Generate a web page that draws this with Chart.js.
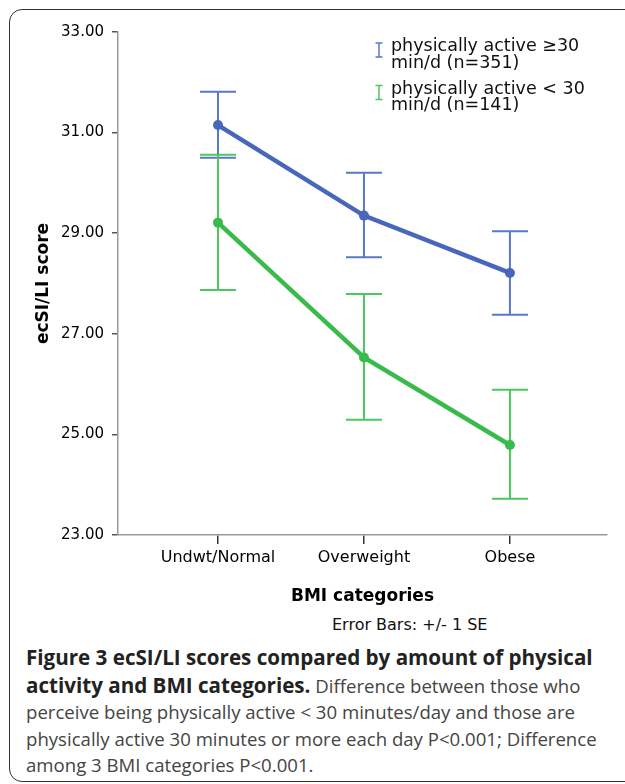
<!DOCTYPE html>
<html>
<head>
<meta charset="utf-8">
<script src="https://cdn.jsdelivr.net/npm/chart.js@4"></script>
<style>
  html, body { margin: 0; padding: 0; background: #fff; overflow: hidden; }
  body { width: 625px; height: 784px; position: relative; }
  .frame {
    position: absolute; left: 9px; top: 9px; width: 720px; height: 773px;
    border: 1.5px solid #333; border-radius: 13px; box-sizing: border-box;
  }
  #wrap { position: absolute; left: 0; top: 0; width: 625px; height: 610px; }
  .errnote {
    position: absolute; left: 332px; top: 615px; line-height: 20px;
    font: 16px "DejaVu Sans", sans-serif; color: #111; white-space: nowrap;
  }
  .caption {
    position: absolute; left: 26px; top: 644px; width: 600px;
    font: 18.6px "Open Sans", sans-serif; line-height: 26.5px; color: #444; white-space: nowrap;
  }
  .caption b { color: #222; font-weight: 700; font-size: 20.6px; line-height: 26.5px; }
</style>
</head>
<body>
<div class="frame"></div>
<div id="wrap"><canvas id="chart"></canvas></div>
<div class="errnote">Error Bars: +/- 1 SE</div>
<div class="caption"><b>Figure 3 ecSI/LI scores compared by amount of physical<br>activity and BMI categories.</b> Difference between those who<br>perceive being physically active &lt; 30 minutes/day and those are<br>physically active 30 minutes or more each day P&lt;0.001; Difference<br>among 3 BMI categories P&lt;0.001.</div>

<script>
// ===== dados =====
const categories = ['Undwt/Normal', 'Overweight', 'Obese'];
const yTicks = [23, 25, 27, 29, 31, 33];

const activeLabel = ['physically active \u226530', 'min/d (n=351)'];
const activeMean  = [31.15, 29.35, 28.21];
const activeLow   = [30.50, 28.52, 27.38];
const activeHigh  = [31.81, 30.20, 29.04];

const inactiveLabel = ['physically active < 30', 'min/d (n=141)'];
const inactiveMean  = [29.21, 26.53, 24.79];
const inactiveLow   = [27.87, 25.29, 23.72];
const inactiveHigh  = [30.56, 27.79, 25.89];

const BLUE = '#4866bb', BLUE_EB = '#5a78c8';
const GREEN = '#38bb4c', GREEN_EB = '#4cc75e';
const FONT = '"DejaVu Sans", sans-serif';

const series = [
  { label: activeLabel,   mean: activeMean,   low: activeLow,   high: activeHigh,   color: BLUE,  eb: BLUE_EB },
  { label: inactiveLabel, mean: inactiveMean, low: inactiveLow, high: inactiveHigh, color: GREEN, eb: GREEN_EB }
];

// barras de erro + legenda desenhadas com as escalas do Chart.js
const errorBars = {
  id: 'errorBars',
  beforeDatasetsDraw(chart) {
    const { ctx, scales: { x, y } } = chart;
    ctx.save();
    ctx.lineWidth = 2;
    series.forEach(s => {
      ctx.strokeStyle = s.eb;
      s.mean.forEach((m, i) => {
        const px = x.getPixelForValue(i);
        const yl = y.getPixelForValue(s.low[i]);
        const yh = y.getPixelForValue(s.high[i]);
        ctx.beginPath();
        ctx.moveTo(px, yl); ctx.lineTo(px, yh);
        ctx.moveTo(px - 18, yh); ctx.lineTo(px + 18, yh);
        ctx.moveTo(px - 18, yl); ctx.lineTo(px + 18, yl);
        ctx.stroke();
      });
    });
    ctx.restore();
  },
  afterDraw(chart) {
    const { ctx } = chart;
    ctx.save();
    ctx.font = '17.5px ' + FONT;
    ctx.fillStyle = '#111';
    ctx.textBaseline = 'alphabetic';
    series.forEach((s, k) => {
      const top = 43 + k * 42.5;
      // símbolo "I"
      ctx.strokeStyle = s.eb;
      ctx.lineWidth = 1.5;
      ctx.beginPath();
      ctx.moveTo(379, top); ctx.lineTo(379, top + 14);
      ctx.moveTo(375.5, top); ctx.lineTo(382.5, top);
      ctx.moveTo(375.5, top + 14); ctx.lineTo(382.5, top + 14);
      ctx.stroke();
      s.label.forEach((t, j) => ctx.fillText(t, 391, top + 8 + j * 16.7));
    });
    ctx.restore();
  }
};

new Chart(document.getElementById('chart'), {
  type: 'line',
  data: {
    datasets: series.map(s => ({
      data: s.mean.map((v, i) => ({ x: i, y: v })),
      borderColor: s.color,
      backgroundColor: s.color,
      borderWidth: 4.5,
      pointRadius: 5,
      pointBorderWidth: 0,
      tension: 0
    }))
  },
  options: {
    responsive: true,
    maintainAspectRatio: false,
    animation: false,
    layout: { padding: { top: 32, right: 18, left: 0, bottom: 0 } },
    plugins: { legend: { display: false }, tooltip: { enabled: false } },
    scales: {
      x: {
        type: 'linear',
        min: -0.685,
        max: 2.665,
        afterBuildTicks: sc => { sc.ticks = categories.map((c, i) => ({ value: i })); },
        afterFit: sc => { sc.height = 75; },
        ticks: {
          callback: v => categories[v],
          font: { family: FONT, size: 16 },
          color: '#000',
          padding: 4,
          maxRotation: 0
        },
        grid: { drawOnChartArea: false, drawTicks: true, tickLength: 9, color: '#333', lineWidth: 1.5 },
        border: { color: '#999', width: 1.5 },
        title: {
          display: true,
          text: 'BMI categories',
          font: { family: FONT, size: 17, weight: 'bold' },
          color: '#000',
          padding: { top: 0, bottom: 3 }
        }
      },
      y: {
        min: 23,
        max: 33,
        afterBuildTicks: sc => { sc.ticks = yTicks.map(v => ({ value: v })); },
        afterFit: sc => { sc.width = 118; },
        ticks: {
          callback: v => v.toFixed(2),
          font: { family: FONT, size: 15 },
          color: '#000',
          padding: 8
        },
        grid: { drawOnChartArea: false, drawTicks: true, tickLength: 6, color: '#555', lineWidth: 1.5 },
        border: { color: '#999', width: 1.5 },
        title: {
          display: true,
          text: 'ecSI/LI score',
          font: { family: FONT, size: 17, weight: 'bold' },
          color: '#000',
          padding: { top: 33, bottom: 0 }
        }
      }
    }
  },
  plugins: [errorBars]
});
</script>
</body>
</html>
